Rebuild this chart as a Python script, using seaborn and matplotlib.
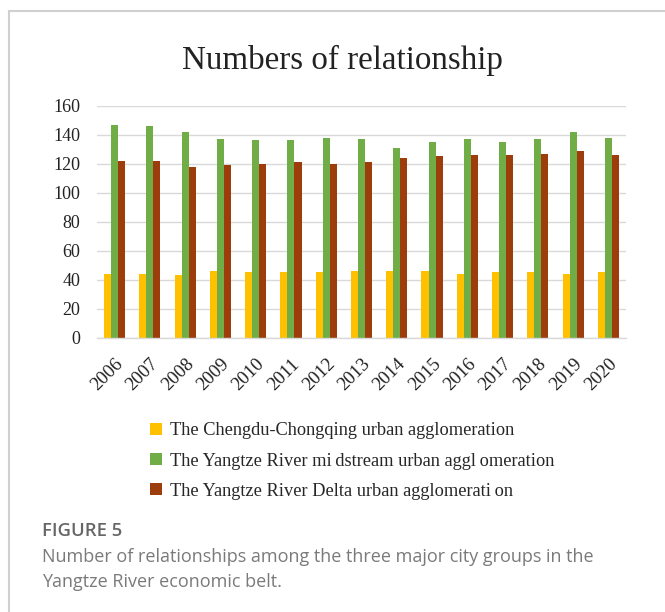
import numpy as np
import pandas as pd
import matplotlib
matplotlib.use("Agg")
import matplotlib.pyplot as plt
from matplotlib.lines import Line2D
import seaborn as sns

years = [str(y) for y in range(2006, 2021)]
series_names = [
    "The Chengdu-Chongqing urban agglomeration",
    "The Yangtze River mi\u2009dstream urban aggl\u2009omeration",
    "The Yangtze River Delta urban agglomerati\u2009on",
]
chengdu = [44, 44, 43, 46, 45, 45, 45, 46, 46, 46, 44, 45, 45, 44, 45]
midstream = [147, 146, 142, 137, 136, 136, 138, 137, 131, 135, 137, 135, 137, 142, 138]
delta = [122, 122, 118, 119, 120, 121, 120, 121, 124, 125, 126, 126, 127, 129, 126]
y_ticks = [0, 20, 40, 60, 80, 100, 120, 140, 160]
colors = ["#FFC000", "#70AD47", "#9E3D0C"]

df = pd.DataFrame({
    "year": years * 3,
    "value": chengdu + midstream + delta,
    "series": [series_names[0]] * 15 + [series_names[1]] * 15 + [series_names[2]] * 15,
})

sns.set_theme(style="white")
plt.rcParams['font.family'] = ['Liberation Serif', 'DejaVu Serif']

W, H = 665, 612
fig = plt.figure(figsize=(W / 100, H / 100), dpi=100)
ax = fig.add_axes([97 / W, 1 - 337.7 / H, (626 - 97) / W, (337.7 - 105.7) / H])

sns.barplot(data=df, x="year", y="value", hue="series", palette=colors,
            width=0.6, ax=ax, legend=True, saturation=1)
for p in ax.patches:
    p.set_linewidth(0)

ax.set_ylim(0, 160)
ax.set_xlim(-0.5, 14.5)
ax.set_yticks(y_ticks)
ax.set_yticklabels([str(t) for t in y_ticks], fontsize=13, color="#222222")
ax.set_xticks(range(len(years)))
ax.set_xticklabels(years, rotation=45, ha="right", rotation_mode="anchor",
                   fontsize=13.5, color="#222222")
ax.tick_params(axis="x", pad=13, length=0)
ax.tick_params(axis="y", pad=12, length=0)
ax.set_xlabel("")
ax.set_ylabel("")
ax.yaxis.grid(True, color="#d9d9d9", linewidth=1)
ax.set_axisbelow(True)
for s in ["top", "right", "left"]:
    ax.spines[s].set_visible(False)
ax.spines["bottom"].set_color("#d9d9d9")
ax.spines["bottom"].set_linewidth(1)

handles, labels = ax.get_legend_handles_labels()
ax.get_legend().remove()
fig.legend(handles, labels, loc="upper left", bbox_to_anchor=(143 / W, 1 - 415 / H),
           frameon=False, fontsize=13.2, handlelength=0.65, handleheight=0.65,
           handletextpad=0.45, labelspacing=0.72, borderaxespad=0)

fig.text(342 / W, 1 - 60 / H, "Numbers of relationship", ha="center", va="center",
         fontsize=23.8, color="#222222")

# frame
fig.add_artist(Line2D([9 / W, 9 / W], [0, 1 - 11 / H], transform=fig.transFigure,
                      color="#d0d0d0", linewidth=1.5))
fig.add_artist(Line2D([9 / W, 1], [1 - 11 / H, 1 - 11 / H], transform=fig.transFigure,
                      color="#d0d0d0", linewidth=1.5))

fig.text(42 / W, 1 - 531 / H, "FIGURE 5", ha="left", va="center", fontsize=13.3,
         color="#666666", family="Open Sans", fontweight="semibold")
fig.text(42 / W, 1 - 557 / H, "Number of relationships among the three major city groups in the",
         ha="left", va="center", fontsize=13, color="#7a7a7a", family="Open Sans")
fig.text(42 / W, 1 - 582 / H, "Yangtze River economic belt.",
         ha="left", va="center", fontsize=13, color="#7a7a7a", family="Open Sans")

fig.savefig("out.png", dpi=100, facecolor="white")
